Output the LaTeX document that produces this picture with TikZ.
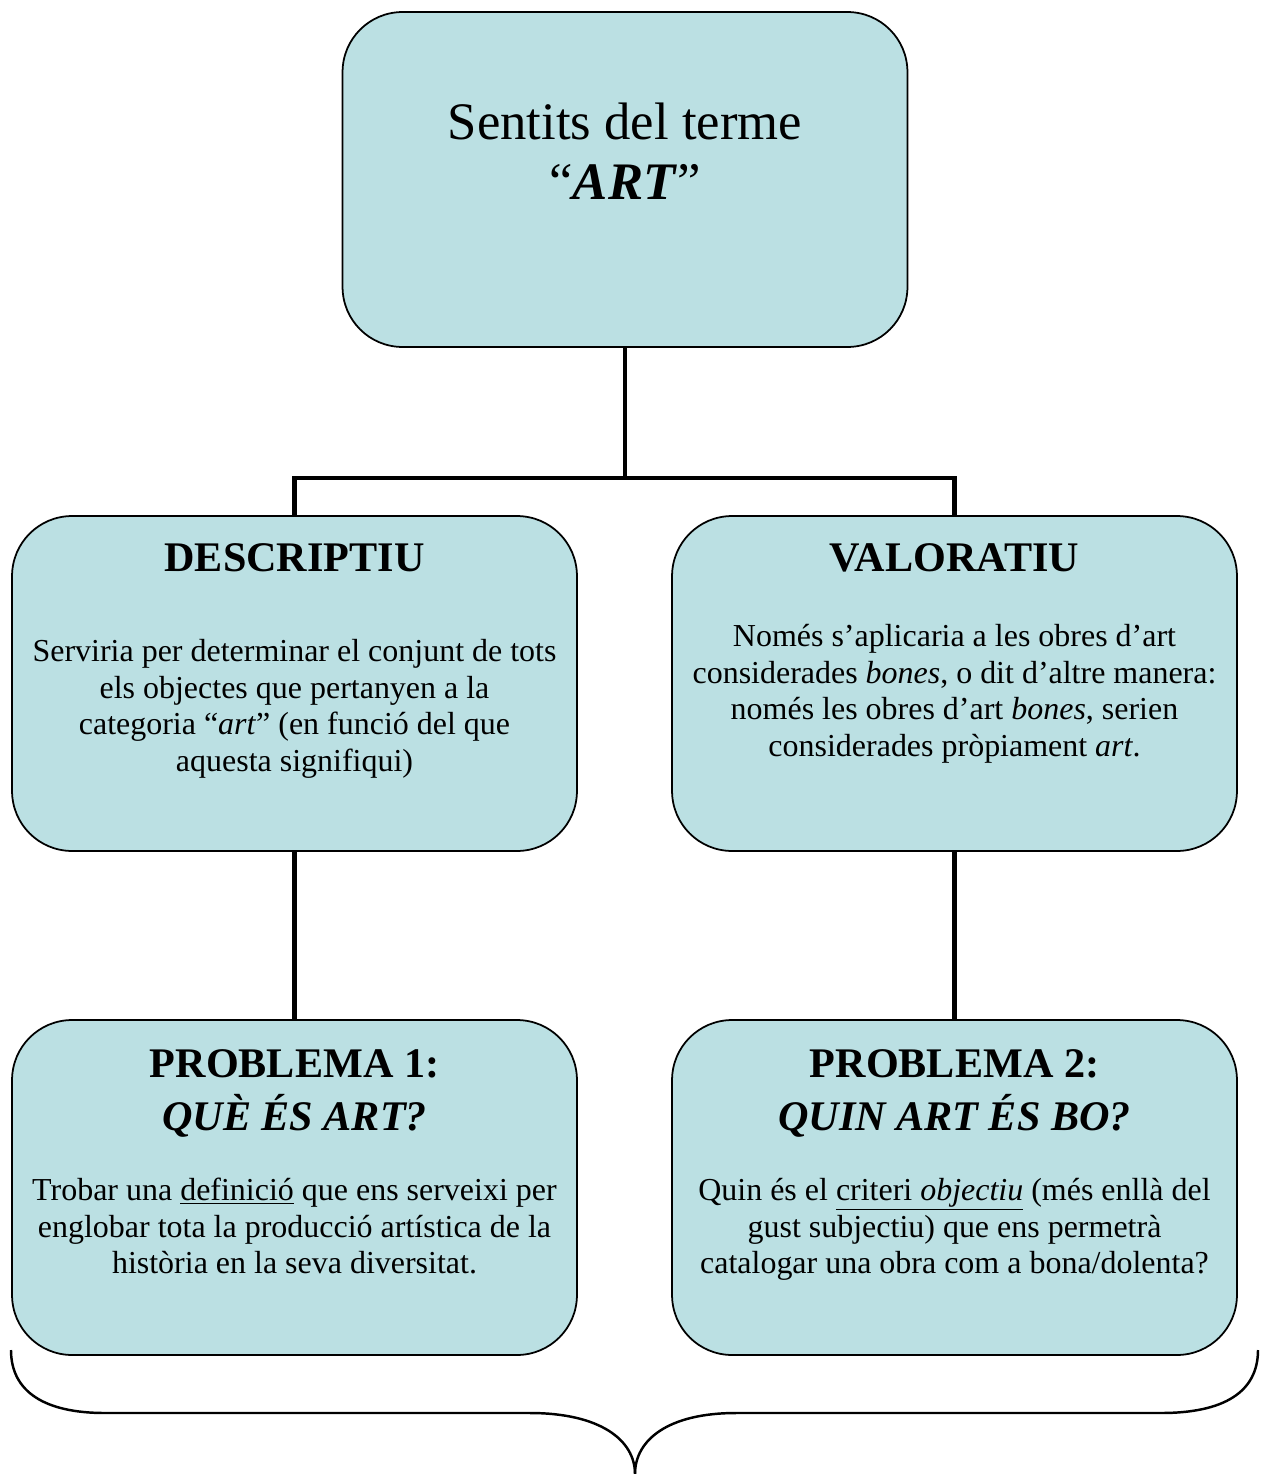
\documentclass[tikz,border=0pt]{standalone}
\usepackage{fontspec}
\setmainfont{Liberation Serif}
\usepackage{tikz}
\usetikzlibrary{positioning}
\definecolor{boxfill}{RGB}{187,224,227}
\tikzset{
    box/.style={draw, line width=1pt, fill=boxfill, rounded corners=1.2cm,
        minimum width=11.3cm, minimum height=6.7cm, inner sep=0pt},
    titletxt/.style={font=\fontsize{30}{34.7}\selectfont, align=center, inner sep=0pt},
    head/.style={font=\fontsize{24}{28}\selectfont\bfseries, align=center, inner sep=0pt},
    body/.style={font=\fontsize{18.2}{21}\selectfont, align=center, inner sep=0pt},
    conn/.style={line width=2.5pt},
}

\begin{document}
\begin{tikzpicture}[x=0.02cm, y=-0.02cm]
        \useasboundingbox (0,0) rectangle (1269,1474);
        % boxes
        \node[box] (top) at (625,179.5) {};
        \node[box] (desc) at (294.5,683.5) {};
        \node[box] (val) at (954.5,683.5) {};
        \node[box] (prob1) at (294.5,1187.5) {};
        \node[box] (prob2) at (954.5,1187.5) {};
        % texts
        \node[titletxt, anchor=north] (toptext) at (625,96) {\strut Sentits del terme\\ “\textbf{\textit{ART}}”};
        \node[head, anchor=base] (deschead) at (294.5,571) {DESCRIPTIU};
        \node[body, anchor=north] (desctext) at (294.5,635) {\strut Serviria per determinar el conjunt de tots\\ els objectes que pertanyen a la\\ categoria “\textit{art}” (en funció del que\\ aquesta signifiqui)};
        \node[head, anchor=base] (valhead) at (954.5,571) {VALORATIU};
        \node[body, anchor=north] (valtext) at (954.5,620) {\strut Només s’aplicaria a les obres d’art\\ considerades \textit{bones}, o dit d’altre manera:\\ només les obres d’art \textit{bones}, serien\\ considerades pròpiament \textit{art}.};
        \node[head, anchor=north] (prob1head) at (294.5,1042.6) {\strut PROBLEMA 1:\\ \textit{QUÈ ÉS ART?}};
        \node[body, anchor=north] (prob1text) at (294.5,1174) {\strut Trobar una \underline{definició} que ens serveixi per\\ englobar tota la producció artística de la\\ història en la seva diversitat.};
        \node[head, anchor=north] (prob2head) at (954.5,1042.6) {\strut PROBLEMA 2:\\ \textit{QUIN ART ÉS BO?}};
        \node[body, anchor=north] (prob2text) at (954.5,1174) {\strut Quin és el \underline{criteri \textit{objectiu}} (més enllà del\\ gust subjectiu) que ens permetrà\\ catalogar una obra com a bona/dolenta?};
        % connectors
        \coordinate (fork) at (625,478);
        \draw[conn] (top.south) -- (fork);
        \draw[conn] (desc.north) |- (fork) -| (val.north);
        \draw[conn] (desc.south) -- (prob1.north);
        \draw[conn] (val.south) -- (prob2.north);
        % brace
        \coordinate (bl) at (11,1350);
        \coordinate (br) at (1258,1350);
        \coordinate (tip) at (635,1474);
        \draw[line width=1.4pt] (bl) .. controls (11,1392) and (45,1413) .. (105,1413) -- (530,1413)
            .. controls (600,1413) and (635,1440) .. (tip);
        \draw[line width=1.4pt] (br) .. controls (1258,1392) and (1224,1413) .. (1161,1413) -- (736,1413)
            .. controls (668,1413) and (635,1440) .. (tip);
    \end{tikzpicture}
\end{document}
